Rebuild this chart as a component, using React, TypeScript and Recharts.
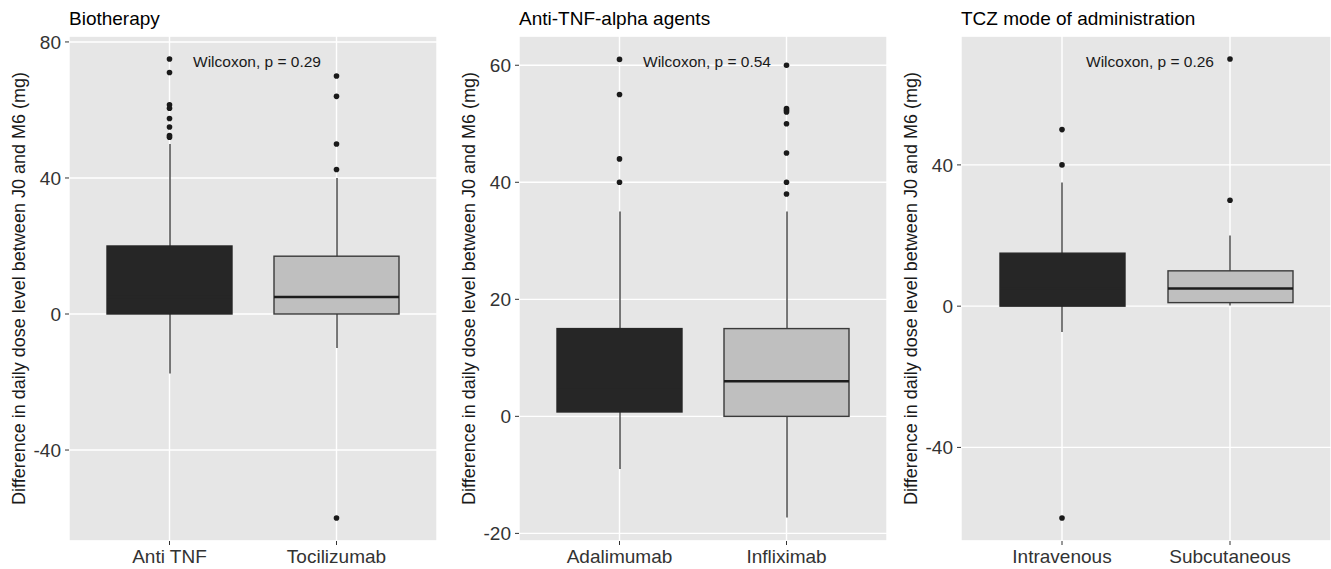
import React from "react";
import { ComposedChart, Bar, Scatter, XAxis, YAxis, CartesianGrid } from "recharts";

const FONT = "'Liberation Sans', Arial, sans-serif";
const DARK = "#262626";
const LIGHT = "#bfbfbf";
const Y_TITLE = "Difference in daily dose level between J0 and M6 (mg)";

// Biotherapy
const bioGroups = ["Anti TNF", "Tocilizumab"];
const bioLow = [-17.5, -10];
const bioQ1 = [0, 0];
const bioMedian = [5, 5];
const bioQ3 = [20, 17];
const bioHigh = [50, 40];
const bioOutliers = [
  [75, 71, 61.5, 60.5, 57.5, 55, 52.5, 52],
  [70, 64, 50, 42.5, -60],
];
const bioTicks = [-40, 0, 40, 80];
const bioMinor = [-60, -20, 20, 60];

// Anti-TNF-alpha agents
const tnfGroups = ["Adalimumab", "Infliximab"];
const tnfLow = [-9, -17.3];
const tnfQ1 = [0.75, 0];
const tnfMedian = [5, 6];
const tnfQ3 = [15, 15];
const tnfHigh = [35, 35];
const tnfOutliers = [
  [61, 55, 44, 40],
  [60, 52.6, 52.3, 52, 50, 45, 40, 38],
];
const tnfTicks = [-20, 0, 20, 40, 60];
const tnfMinor = [-10, 10, 30, 50];

// TCZ mode of administration
const tczGroups = ["Intravenous", "Subcutaneous"];
const tczLow = [-7.3, 0.2];
const tczQ1 = [0, 1];
const tczMedian = [5, 5];
const tczQ3 = [15, 10];
const tczHigh = [35, 20];
const tczOutliers = [
  [50, 40, -60],
  [70, 30],
];
const tczTicks = [-40, 0, 40];
const tczMinor = [-60, -20, 20, 60];

const WhiskerShape = (p: any) => {
  const top = Math.min(p.y, p.y + p.height);
  const h = Math.abs(p.height);
  const cx = p.x + p.width / 2;
  return <line x1={cx} x2={cx} y1={top} y2={top + h} stroke="#333" strokeWidth={1.3} />;
};

const BoxShape = (p: any) => {
  const top = Math.min(p.y, p.y + p.height);
  const h = Math.abs(p.height);
  const [lo, hi] = p.payload.box;
  const my = top + (h * (hi - p.payload.median)) / (hi - lo);
  const dark = p.payload.fill === DARK;
  return (
    <g>
      <rect x={p.x} y={top} width={p.width} height={h} fill={p.payload.fill} stroke={dark ? DARK : "#3a3a3a"} strokeWidth={1.4} />
      <line x1={p.x} x2={p.x + p.width} y1={my} y2={my} stroke={dark ? DARK : "#1c1c1c"} strokeWidth={2.4} />
    </g>
  );
};

const Dot = (p: any) => <circle cx={p.cx} cy={p.cy} r={2.8} fill="#1a1a1a" />;

function Panel(props: any) {
  const { left, width, axisWidth, right, labelOffset, title, pText, pCenter, groups, low, q1, median, q3, high, outliers, domain, ticks, minor } = props;
  const rows = groups.map((name: string, i: number) => ({
    name,
    whisker: [low[i], high[i]],
    box: [q1[i], q3[i]],
    median: median[i],
    fill: i === 0 ? DARK : LIGHT,
  }));
  const points = groups.flatMap((name: string, i: number) => outliers[i].map((v: number) => ({ name, v })));
  const tickStyle = { fontSize: 19, fill: "#333", fontFamily: FONT };

  return (
    <div style={{ position: "absolute", left, top: 0, width, height: 569 }}>
      <ComposedChart width={width} height={569} data={rows} margin={{ top: 36, right, bottom: 0, left: 0 }}>
        <CartesianGrid fill="#e6e6e6" stroke="#ffffff" strokeWidth={1.4} />
        <CartesianGrid yAxisId="minor" vertical={false} stroke="#ffffff" strokeWidth={0.8} />
        <XAxis
          dataKey="name"
          type="category"
          allowDuplicatedCategory={false}
          padding={{ left: 17, right: 17 }}
          axisLine={false}
          tickLine={{ stroke: "#333" }}
          tickSize={4}
          tickMargin={5}
          height={28}
          tick={tickStyle}
        />
        <XAxis xAxisId="w" dataKey="name" type="category" allowDuplicatedCategory={false} padding={{ left: 17, right: 17 }} hide />
        <YAxis
          type="number"
          domain={domain}
          ticks={ticks}
          interval={0}
          width={axisWidth}
          axisLine={false}
          tickLine={{ stroke: "#333" }}
          tickSize={4}
          tickMargin={4}
          tick={tickStyle}
          label={{
            value: Y_TITLE,
            angle: -90,
            position: "insideLeft",
            offset: labelOffset,
            style: { textAnchor: "middle", fontSize: 18, fill: "#1a1a1a", fontFamily: FONT },
          }}
        />
        <YAxis yAxisId="minor" type="number" domain={domain} ticks={minor} interval={0} hide />
        <Bar xAxisId="w" dataKey="whisker" barSize={2} shape={WhiskerShape} isAnimationActive={false} />
        <Bar dataKey="box" barSize={125} shape={BoxShape} isAnimationActive={false} />
        <Scatter data={points} dataKey="v" shape={Dot} isAnimationActive={false} />
      </ComposedChart>
      <div style={{ position: "absolute", left: axisWidth, top: 9, fontSize: 19, lineHeight: "19px", fontFamily: FONT, color: "#000", whiteSpace: "nowrap" }}>
        {title}
      </div>
      <div style={{ position: "absolute", left: pCenter - 100, width: 200, top: 54, fontSize: 15.5, lineHeight: "15.5px", textAlign: "center", fontFamily: FONT, color: "#1a1a1a", whiteSpace: "nowrap" }}>
        {pText}
      </div>
    </div>
  );
}

export default function App() {
  return (
    <div style={{ position: "absolute", left: 0, top: 0, width: 1331, height: 569, background: "#ffffff" }}>
      <Panel
        left={0} width={445} axisWidth={69} right={8} labelOffset={19}
        title="Biotherapy" pText="Wilcoxon, p = 0.29" pCenter={257}
        groups={bioGroups} low={bioLow} q1={bioQ1} median={bioMedian} q3={bioQ3} high={bioHigh}
        outliers={bioOutliers} domain={[-66.75, 81.75]} ticks={bioTicks} minor={bioMinor}
      />
      <Panel
        left={450} width={445} axisWidth={69} right={8} labelOffset={19}
        title="Anti-TNF-alpha agents" pText="Wilcoxon, p = 0.54" pCenter={257}
        groups={tnfGroups} low={tnfLow} q1={tnfQ1} median={tnfMedian} q3={tnfQ3} high={tnfHigh}
        outliers={tnfOutliers} domain={[-21.3, 65]} ticks={tnfTicks} minor={tnfMinor}
      />
      <Panel
        left={900} width={431} axisWidth={61} right={0} labelOffset={11}
        title="TCZ mode of administration" pText="Wilcoxon, p = 0.26" pCenter={250}
        groups={tczGroups} low={tczLow} q1={tczQ1} median={tczMedian} q3={tczQ3} high={tczHigh}
        outliers={tczOutliers} domain={[-66.5, 76.5]} ticks={tczTicks} minor={tczMinor}
      />
    </div>
  );
}
